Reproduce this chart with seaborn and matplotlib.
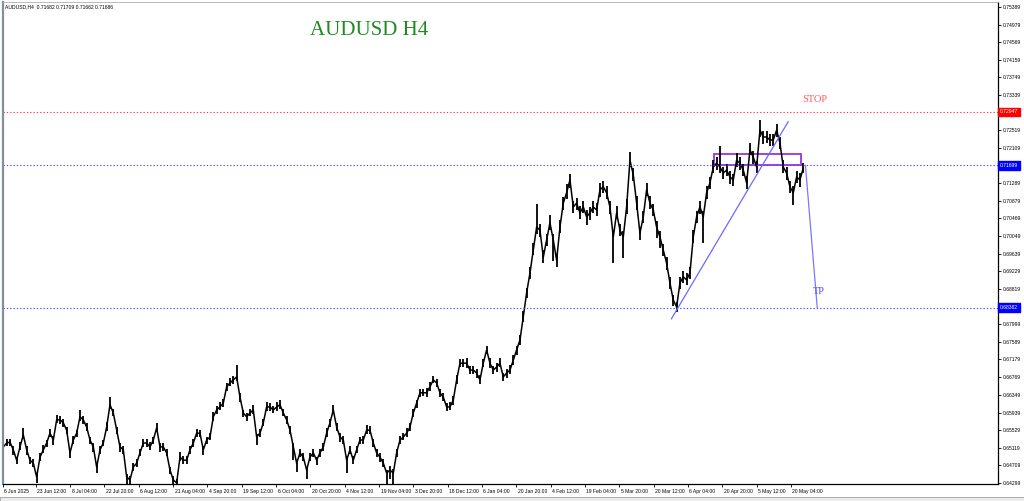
import numpy as np
import pandas as pd
import matplotlib
matplotlib.use("Agg")
import matplotlib.pyplot as plt
import matplotlib.transforms as mtransforms
from matplotlib.patches import Rectangle
import seaborn as sns

# AUDUSD H4 closes, one reading roughly every 6 bars
closes = [
    # Jun - Oct 2025
    0.6514, 0.6523, 0.6525, 0.6507, 0.6483, 0.6514, 0.6542, 0.6507, 0.6483, 0.6476,
    0.6444, 0.6490, 0.6507, 0.6523, 0.6546, 0.6530, 0.6577, 0.6577, 0.6570, 0.6553,
    0.6500, 0.6530, 0.6546, 0.6584, 0.6577, 0.6560, 0.6530, 0.6514, 0.6467, 0.6507,
    0.6523, 0.6560, 0.6612, 0.6593, 0.6553, 0.6514, 0.6507, 0.6444, 0.6437, 0.6467,
    0.6476, 0.6500, 0.6523, 0.6523, 0.6514, 0.6530, 0.6558, 0.6514, 0.6514, 0.6500,
    0.6460, 0.6437, 0.6430, 0.6490, 0.6483, 0.6483, 0.6507, 0.6523, 0.6546, 0.6546,
    0.6507, 0.6530, 0.6537, 0.6584, 0.6600, 0.6607, 0.6616, 0.6654, 0.6663, 0.6670,
    0.6677, 0.6630, 0.6593, 0.6584, 0.6593, 0.6600, 0.6537, 0.6546, 0.6570, 0.6607,
    0.6607, 0.6600, 0.6607, 0.6612, 0.6593, 0.6577, 0.6553, 0.6514, 0.6476, 0.6500,
    0.6490, 0.6460, 0.6490, 0.6500, 0.6483, 0.6500, 0.6514, 0.6546, 0.6570, 0.6600,
    0.6560, 0.6537,
    # Nov 2025 - Mar 2026
    0.6530, 0.6483, 0.6507, 0.6483, 0.6507, 0.6530, 0.6530, 0.6553, 0.6553, 0.6523,
    0.6500, 0.6490, 0.6476, 0.6453, 0.6460, 0.6453, 0.6500, 0.6530, 0.6537, 0.6546,
    0.6560, 0.6593, 0.6616, 0.6640, 0.6640, 0.6640, 0.6654, 0.6670, 0.6663, 0.6640,
    0.6630, 0.6607, 0.6607, 0.6623, 0.6670, 0.6709, 0.6709, 0.6709, 0.6693, 0.6693,
    0.6686, 0.6670, 0.6709, 0.6740, 0.6709, 0.6693, 0.6700, 0.6709, 0.6677, 0.6686,
    0.6693, 0.6716, 0.6740, 0.6763, 0.6817, 0.6873, 0.6919, 0.6973, 0.7026, 0.7019,
    0.6956, 0.6996, 0.7036, 0.6996, 0.6949, 0.7026, 0.7082, 0.7106, 0.7136, 0.7073,
    0.7082, 0.7059, 0.7073, 0.7050, 0.7059, 0.7073, 0.7066, 0.7113, 0.7120, 0.7106,
    0.7073, 0.7003, 0.7059, 0.7019, 0.7003, 0.7073, 0.7182, 0.7148, 0.7082, 0.7012,
    # Mar - May 2026
    0.7050, 0.7113, 0.7082, 0.7066, 0.7026, 0.7003, 0.6973, 0.6942, 0.6896, 0.6856,
    0.6840, 0.6896, 0.6910, 0.6903, 0.6919, 0.7003, 0.7050, 0.7073, 0.7050, 0.7106,
    0.7129, 0.7166, 0.7175, 0.7166, 0.7152, 0.7159, 0.7143, 0.7136, 0.7182, 0.7175,
    0.7159, 0.7129, 0.7206, 0.7189, 0.7166, 0.7252, 0.7236, 0.7236, 0.7229, 0.7229,
    0.7252, 0.7222, 0.7166, 0.7152, 0.7120, 0.7106, 0.7143, 0.7136, 0.7164,
]
# how far the bars poke above / below each close, in pips
wick_up = [
    8, 10, 7, 9, 8, 12, 15, 9, 7, 10, 8, 9, 11, 8, 10, 9, 12, 8, 9, 7,
    10, 9, 8, 15, 10, 9, 8, 10, 7, 9, 8, 11, 18, 9, 8, 10, 9, 7, 8, 10,
    9, 8, 10, 9, 11, 8, 12, 9, 8, 10, 7, 9, 8, 11, 9, 10, 8, 9, 10, 8,
    9, 8, 10, 11, 9, 12, 10, 9, 11, 10, 28, 9, 8, 10, 9, 11, 8, 9, 10, 12,
    9, 10, 11, 12, 9, 8, 10, 9, 8, 10, 9, 8, 10, 9, 8, 10, 9, 11, 10, 12,
    9, 10,
    9, 10, 8, 9, 10, 8, 9, 11, 10, 9, 8, 10, 9, 8, 10, 9, 8, 10, 9, 11,
    10, 9, 8, 10, 9, 11, 10, 9, 8, 10, 9, 10, 11, 9, 12, 10, 9, 11, 10, 9,
    10, 12, 9, 10, 11, 9, 10, 12, 9, 10, 12, 11, 10, 12, 14, 12, 13, 15, 55, 14,
    16, 14, 18, 15, 14, 16, 15, 20, 14, 15, 13, 16, 14, 15, 13, 14, 16, 15, 14, 16,
    15, 14, 16, 15, 14, 18, 20, 15, 16, 14,
    14, 15, 16, 14, 15, 13, 14, 15, 14, 13, 12, 14, 13, 15, 14, 16, 14, 15, 13, 15,
    14, 16, 15, 50, 14, 15, 13, 14, 16, 15, 14, 15, 16, 14, 15, 23, 14, 15, 13, 14,
    15, 14, 16, 15, 14, 16, 14, 15, 12,
]
wick_dn = [
    9, 8, 10, 12, 9, 8, 10, 11, 9, 10, 14, 9, 8, 10, 9, 11, 8, 9, 10, 9,
    12, 9, 8, 10, 9, 8, 10, 11, 14, 9, 8, 10, 9, 8, 10, 12, 9, 25, 20, 10,
    9, 8, 10, 9, 8, 10, 9, 11, 9, 8, 10, 20, 14, 9, 10, 8, 9, 10, 8, 9,
    11, 9, 8, 10, 9, 8, 10, 9, 8, 10, 9, 12, 10, 9, 8, 10, 18, 9, 8, 10,
    9, 8, 10, 9, 8, 10, 9, 30, 20, 10, 9, 20, 10, 9, 11, 10, 9, 8, 10, 9,
    10, 12,
    10, 30, 9, 10, 8, 9, 10, 8, 9, 10, 9, 11, 10, 25, 22, 25, 10, 9, 8, 10,
    9, 10, 11, 9, 8, 10, 9, 8, 10, 9, 10, 9, 8, 11, 10, 9, 10, 11, 9, 10,
    11, 9, 10, 9, 11, 10, 12, 10, 9, 11, 10, 12, 11, 12, 13, 12, 14, 13, 15, 16,
    14, 15, 16, 50, 15, 14, 16, 15, 18, 14, 16, 15, 14, 18, 16, 15, 14, 16, 15, 14,
    16, 60, 15, 14, 50, 16, 15, 14, 16, 15,
    15, 14, 13, 15, 25, 25, 14, 15, 14, 13, 12, 14, 15, 13, 14, 15, 14, 16, 60, 14,
    15, 14, 16, 14, 15, 13, 16, 14, 15, 16, 14, 15, 13, 16, 14, 15, 16, 14, 15, 14,
    16, 15, 14, 16, 14, 28, 15, 16, 12,
]
bar_step = 6.214

# price scale labels (the ones hidden under the level tags are left out)
tick_prices = [0.75389, 0.74979, 0.74569, 0.74159, 0.73749, 0.73339, 0.72519, 0.72109,
               0.71289, 0.70879, 0.70469, 0.70049, 0.69639, 0.69229, 0.68819, 0.67999,
               0.67589, 0.67179, 0.66769, 0.66349, 0.65939, 0.65529, 0.65119, 0.64709,
               0.64299]
date_labels = ["6 Jun 2025", "23 Jun 12:00", "8 Jul 04:00", "22 Jul 20:00", "6 Aug 12:00",
               "21 Aug 04:00", "4 Sep 20:00", "19 Sep 12:00", "6 Oct 04:00", "20 Oct 20:00",
               "4 Nov 12:00", "19 Nov 04:00", "3 Dec 20:00", "18 Dec 12:00", "6 Jan 04:00",
               "20 Jan 20:00", "4 Feb 12:00", "19 Feb 04:00", "5 Mar 20:00", "20 Mar 12:00",
               "6 Apr 04:00", "20 Apr 20:00", "5 May 12:00", "20 May 04:00"]
date_bars = [0] + [61 + 64 * k for k in range(len(date_labels) - 1)]

# levels and drawings
stop_level = 0.72947
entry_level = 0.71699
tp_level = 0.68382
trend_x = [1246, 1464]
trend_y = [0.6812, 0.7272]
box_x = [1325, 1487]
box_y = [0.71699, 0.71964]
tp_x = [1496, 1518]
tp_y = [0.71699, 0.68382]

sns.set_style("white")
plt.rcParams['font.family'] = ['Liberation Sans', 'DejaVu Sans']

fig = plt.figure(figsize=(10.24, 5.01), dpi=100)
ax = fig.add_axes([3 / 1024, 17 / 501, 995 / 1024, 482 / 501])

df = pd.DataFrame({"bar": np.arange(len(closes)) * bar_step + 0.6, "close": closes,
                   "up": np.array(wick_up) / 10000, "dn": np.array(wick_dn) / 10000})
df["high"] = df["close"] + df["up"]
df["low"] = df["close"] - df["dn"]

ax.vlines(df["bar"], df["low"], df["high"], color="black", lw=1.3)
sns.lineplot(data=df, x="bar", y="close", color="black", linewidth=1.1, ax=ax)

ax.set_xlim(0, 1855)
ax.set_ylim(0.64275, 0.75505)

dots = (0, (1.2, 1.8))
ax.axhline(stop_level, color="#ff4040", lw=0.8, ls=dots)
ax.axhline(entry_level, color="#4a4aff", lw=0.8, ls=dots)
ax.axhline(tp_level, color="#4a4aff", lw=0.8, ls=dots)

ax.plot(trend_x, trend_y, color="#6a6aff", lw=0.9)
ax.add_patch(Rectangle((box_x[0], box_y[0]), box_x[1] - box_x[0], box_y[1] - box_y[0],
                       fill=False, edgecolor="#a53fd8", lw=1.4))
ax.plot(tp_x, tp_y, color="#7878ff", lw=0.9)

ax.text(1514, 0.73245, "STOP", color="#ff5a5a", fontsize=7.5, family="Liberation Serif",
        ha="center", va="center")
ax.text(1521, 0.68760, "TP", color="#4a4aff", fontsize=7.5, family="Liberation Serif",
        ha="center", va="center")
ax.text(0.368, 0.94, "AUDUSD H4", transform=ax.transAxes, color="#1f8a1f", fontsize=15,
        family="Liberation Serif", ha="center", va="center")

# axes, MT4 style
ax.set_xlabel("")
ax.set_ylabel("")
ax.yaxis.tick_right()
ax.set_yticks(tick_prices)
ax.set_yticklabels([f"{p:.5f}" for p in tick_prices])
ax.set_xticks(date_bars)
ax.set_xticklabels(date_labels)
ax.tick_params(axis="y", direction="out", length=2, width=0.6, labelsize=3.6, pad=1.5,
               colors="black", right=True, left=False)
ax.tick_params(axis="x", direction="out", length=2, width=0.6, labelsize=3.6, pad=1.5,
               colors="black", bottom=True)
shift = mtransforms.ScaledTranslation(1.5 / 100, 0, fig.dpi_scale_trans)
for lab in ax.get_xticklabels():
    lab.set_ha("left")
    lab.set_transform(lab.get_transform() + shift)

for s in ["right", "bottom"]:
    ax.spines[s].set_color("black")
    ax.spines[s].set_linewidth(0.9)
ax.spines["left"].set_color("#7f8fa0")
ax.spines["left"].set_linewidth(1.6)
ax.spines["top"].set_color("#b0b0b0")
ax.spines["top"].set_linewidth(0.6)

# level tags on the price scale
for level, col in [(stop_level, "#ff0000"), (entry_level, "#0000ff"), (tp_level, "#0000ff")]:
    ax.text(1.002, level, f"{level:.5f}", transform=ax.get_yaxis_transform(), color="white",
            fontsize=3.6, ha="left", va="center", clip_on=False,
            bbox=dict(boxstyle="square,pad=0.35", fc=col, ec=col))

fig.text(5 / 1024, 1 - 7 / 501, "AUDUSD,H4  0.71682 0.71709 0.71662 0.71686",
         fontsize=3.6, color="black", ha="left", va="center")

# terminal tab strip at the very bottom
fig.patches.append(Rectangle((0, 0), 1, 4 / 501, transform=fig.transFigure,
                             facecolor="#ececec", edgecolor="#a0a0a0", lw=0.6))

fig.savefig("out.png", dpi=100)
